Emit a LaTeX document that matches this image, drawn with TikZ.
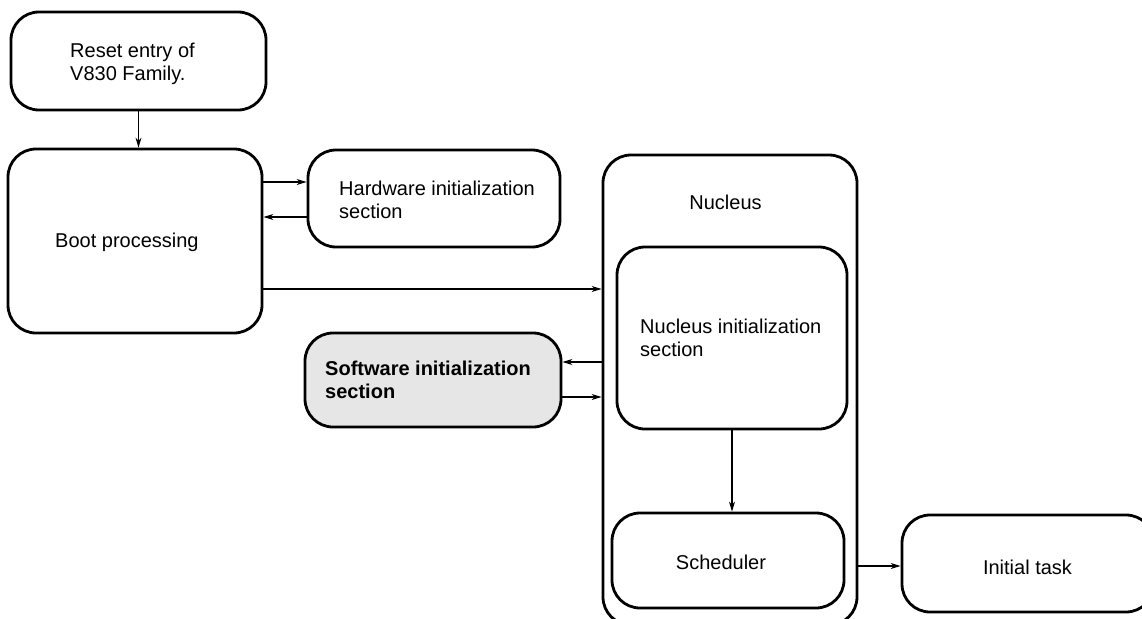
\documentclass[tikz,border=0pt]{standalone}
\usepackage{fontspec}
\setmainfont{Liberation Sans}
\usetikzlibrary{arrows.meta}
\definecolor{swfill}{HTML}{E6E6E6}
\begin{document}
\begin{tikzpicture}[x=1pt,y=-1pt,
  box/.style={draw, line width=2.8pt, rounded corners=28pt, inner sep=0pt},
  lbl/.style={inner sep=0pt, font=\fontsize{20}{23}\selectfont, align=left},
  arr/.style={line width=1.1pt, -{Stealth[length=10pt,width=6pt]}}]
\useasboundingbox (0,0) rectangle (1142,618);

% boxes
\node[box, minimum width=255pt, minimum height=98pt]  (reset) at (138.5,61) {};
\node[box, minimum width=254pt, minimum height=184pt] (boot)  at (135,241) {};
\node[box, minimum width=252pt, minimum height=97pt]  (hw)    at (434,198.5) {};
\node[box, minimum width=254pt, minimum height=470pt] (nuc)   at (730,390) {};
\node[box, minimum width=230pt, minimum height=182pt] (ninit) at (732,338) {};
\node[box, fill=swfill, minimum width=256pt, minimum height=94pt] (sw) at (433,380) {};
\node[box, minimum width=232pt, minimum height=95pt]  (sched) at (728,560.5) {};
\node[box, minimum width=252pt, minimum height=97pt]  (init)  at (1028,563.5) {};

% texts
\node[lbl, anchor=north west] (resetT) at (70,42.5) {Reset entry of\\V830 Family.};
\node[lbl, anchor=base west]  (bootT)  at (55,247) {Boot processing};
\node[lbl, anchor=north west] (hwT)    at (339,180.4) {Hardware initialization\\section};
\node[lbl, anchor=base]       (nucT)   at (725.5,209) {Nucleus};
\node[lbl, anchor=north west] (ninitT) at (640,318.7) {Nucleus initialization\\section};
\node[lbl, anchor=north west, font=\fontsize{20}{23}\selectfont\bfseries] (swT) at (325,360.4) {Software initialization\\section};
\node[lbl, anchor=base]       (schedT) at (721,569) {Scheduler};
\node[lbl, anchor=base]       (initT)  at (1027.5,574) {Initial task};

% connector levels
\coordinate (yA) at (0,182);
\coordinate (yB) at (0,217);
\coordinate (yC) at (0,289);
\coordinate (yD) at (0,362);
\coordinate (yE) at (0,397);
\coordinate (yF) at (0,566);

% connectors
\draw[arr] (reset.south) -- (reset.south |- boot.north);
\draw[arr] (boot.east |- yA) -- (hw.west |- yA);
\draw[arr] (hw.west |- yB) -- (boot.east |- yB);
\draw[arr] (boot.east |- yC) -- (nuc.west |- yC);
\draw[arr] (nuc.west |- yD) -- (sw.east |- yD);
\draw[arr] (sw.east |- yE) -- (nuc.west |- yE);
\draw[arr] (ninit.south) -- (ninit.south |- sched.north);
\draw[arr] (nuc.east |- yF) -- (init.west |- yF);
\end{tikzpicture}
\end{document}
